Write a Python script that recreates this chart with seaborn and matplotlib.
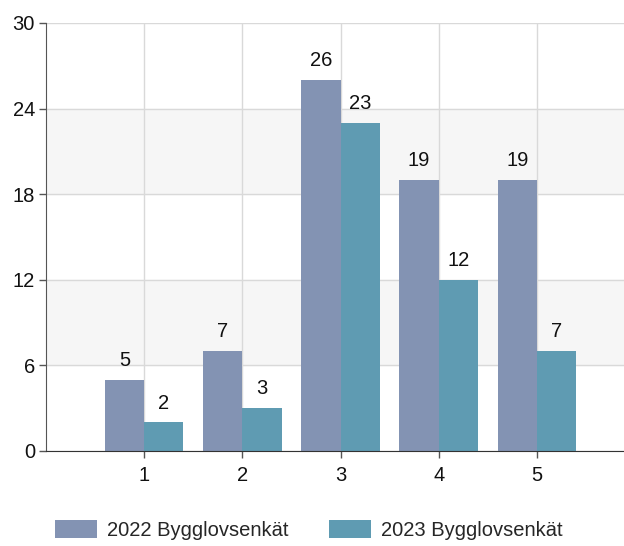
import pandas as pd
import matplotlib
matplotlib.use("Agg")
import matplotlib.pyplot as plt
import seaborn as sns

# Data
categories = ["1", "2", "3", "4", "5"]
values_2022 = [5, 7, 26, 19, 19]
values_2023 = [2, 3, 23, 12, 7]
series_names = ["2022 Bygglovsenkät", "2023 Bygglovsenkät"]
colors = ["#8393B3", "#5F9BB2"]
y_ticks = [0, 6, 12, 18, 24, 30]

df = pd.DataFrame({
    "kategori": categories * 2,
    "antal": values_2022 + values_2023,
    "serie": [series_names[0]] * 5 + [series_names[1]] * 5,
})

sns.set_style("white")
plt.rcParams["font.family"] = ["Liberation Sans", "DejaVu Sans"]

fig = plt.figure(figsize=(6.24, 5.46), dpi=100)
ax = fig.add_axes([0.0737, 0.174, 0.93, 0.784])

# alternating background bands
for lo in (6, 18):
    ax.axhspan(lo, lo + 6, color="#F6F6F6", zorder=0)

sns.barplot(data=df, x="kategori", y="antal", hue="serie", palette=colors,
            width=0.8, saturation=1, ax=ax, zorder=2, linewidth=0)

for c in ax.containers:
    ax.bar_label(c, padding=7, fontsize=14.5, color="#111111")

ax.set_ylim(0, 30)
ax.set_xlim(-1, 4.91)
ax.set_yticks(y_ticks)
ax.yaxis.grid(True, color="#D9D9D9", linewidth=1, zorder=1)
ax.xaxis.grid(True, color="#D9D9D9", linewidth=1, zorder=1)
ax.set_axisbelow(True)
ax.set_xlabel("")
ax.set_ylabel("")

for s in ("top", "right"):
    ax.spines[s].set_visible(False)
ax.spines["left"].set_color("#555555")
ax.spines["bottom"].set_color("#333333")
ax.tick_params(axis="both", which="both", length=5, width=1, color="#555555",
               labelsize=14.5, labelcolor="#111111", direction="out", bottom=True, left=True)
ax.tick_params(axis="x", pad=6)
ax.tick_params(axis="y", pad=3)

handles, labels = ax.get_legend_handles_labels()
ax.get_legend().remove()
fig.legend(handles, labels, loc="lower center", bbox_to_anchor=(0.495, -0.022), ncol=2,
           frameon=False, fontsize=14.5, handlelength=2.1, handleheight=1.05,
           columnspacing=2.0, handletextpad=0.5)

fig.savefig("out.png", dpi=100)
